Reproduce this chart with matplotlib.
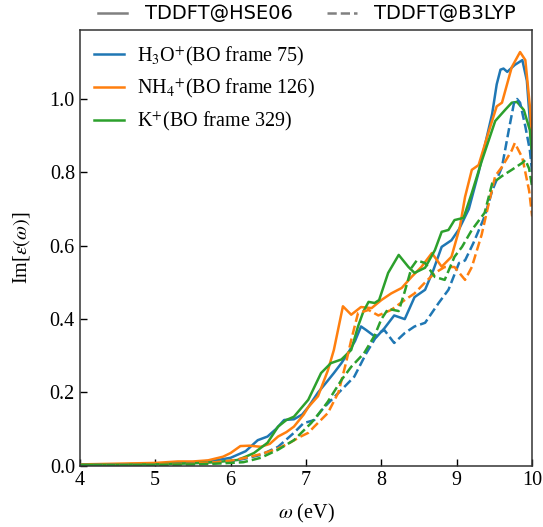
import matplotlib
matplotlib.use("Agg")
import matplotlib.pyplot as plt
from matplotlib.lines import Line2D

plt.rcParams['font.family'] = ['Liberation Serif', 'DejaVu Serif']
plt.rcParams['mathtext.fontset'] = 'stix'
plt.rcParams['font.size'] = 14.5

# energy (eV) and Im[eps]
h3o_hse_x = [4.0, 4.5, 5.0, 5.5, 5.8, 6.0, 6.2, 6.36, 6.49, 6.6, 6.71, 6.84, 6.95, 7.03, 7.16,
             7.28, 7.37, 7.47, 7.56, 7.65, 7.73, 7.8, 7.93, 8.04, 8.17, 8.31, 8.44, 8.58, 8.69,
             8.8, 8.93, 9.03, 9.16, 9.29, 9.38, 9.47, 9.53, 9.58, 9.62, 9.67, 9.77, 9.87, 9.93,
             9.97, 10.0]
h3o_hse_y = [0.003, 0.004, 0.006, 0.01, 0.015, 0.022, 0.04, 0.07, 0.08, 0.1, 0.125, 0.127, 0.14,
             0.16, 0.2, 0.23, 0.253, 0.28, 0.308, 0.34, 0.38, 0.37, 0.35, 0.375, 0.41, 0.40, 0.46,
             0.48, 0.534, 0.597, 0.615, 0.645, 0.70, 0.80, 0.88, 0.96, 1.04, 1.08, 1.083, 1.074,
             1.093, 1.106, 1.05, 0.94, 0.82]

nh4_hse_x = [4.0, 4.5, 5.0, 5.3, 5.5, 5.7, 5.9, 6.0, 6.13, 6.25, 6.4, 6.52, 6.63, 6.74, 6.84,
             6.97, 7.03, 7.16, 7.29, 7.37, 7.49, 7.6, 7.73, 7.87, 8.0, 8.13, 8.27, 8.4, 8.53, 8.67,
             8.8, 8.93, 9.04, 9.11, 9.2, 9.29, 9.43, 9.53, 9.6, 9.73, 9.84, 9.91, 9.97, 10.0]
nh4_hse_y = [0.004, 0.006, 0.008, 0.012, 0.012, 0.015, 0.025, 0.035, 0.054, 0.055, 0.052, 0.06,
             0.08, 0.092, 0.107, 0.14, 0.16, 0.19, 0.26, 0.316, 0.435, 0.412, 0.433, 0.43, 0.452,
             0.47, 0.485, 0.515, 0.542, 0.58, 0.543, 0.57, 0.65, 0.733, 0.807, 0.82, 0.915, 0.98,
             0.99, 1.087, 1.128, 1.106, 0.98, 0.88]

k_hse_x = [4.0, 4.5, 5.0, 5.5, 5.8, 6.09, 6.2, 6.31, 6.49, 6.63, 6.74, 6.84, 7.03, 7.2, 7.33,
           7.47, 7.6, 7.69, 7.76, 7.83, 7.91, 7.97, 8.09, 8.23, 8.36, 8.44, 8.58, 8.71, 8.8, 8.89,
           8.97, 9.09, 9.2, 9.33, 9.51, 9.64, 9.73, 9.8, 9.89, 9.97, 10.0]
k_hse_y = [0.003, 0.003, 0.004, 0.007, 0.01, 0.016, 0.025, 0.035, 0.063, 0.107, 0.125, 0.134,
           0.18, 0.253, 0.28, 0.29, 0.316, 0.38, 0.42, 0.447, 0.444, 0.452, 0.526, 0.575, 0.542,
           0.526, 0.54, 0.588, 0.638, 0.643, 0.67, 0.676, 0.744, 0.83, 0.94, 0.97, 0.99, 0.992,
           0.97, 0.915, 0.84]

h3o_b3_x = [4.0, 4.5, 5.0, 5.5, 5.8, 6.0, 6.2, 6.4, 6.63, 6.84, 6.97, 7.03, 7.11, 7.2, 7.29,
            7.47, 7.64, 7.8, 7.96, 8.04, 8.17, 8.31, 8.44, 8.58, 8.76, 8.89, 9.03, 9.11, 9.22,
            9.37, 9.47, 9.6, 9.69, 9.76, 9.8, 9.84, 9.91, 9.97, 10.0]
h3o_b3_y = [0.002, 0.003, 0.004, 0.006, 0.009, 0.012, 0.02, 0.03, 0.052, 0.09, 0.117, 0.12,
            0.125, 0.15, 0.17, 0.207, 0.243, 0.307, 0.362, 0.37, 0.335, 0.362, 0.38, 0.39,
            0.444, 0.48, 0.553, 0.56, 0.607, 0.68, 0.75, 0.815, 0.915, 0.99, 1.0, 0.99, 0.925,
            0.86, 0.80]

nh4_b3_x = [4.0, 4.5, 5.0, 5.5, 5.8, 6.0, 6.2, 6.4, 6.6, 6.76, 6.93, 7.03, 7.11, 7.29, 7.43,
            7.53, 7.6, 7.69, 7.83, 7.96, 8.13, 8.31, 8.44, 8.58, 8.71, 8.84, 8.97, 9.11, 9.2,
            9.33, 9.43, 9.51, 9.6, 9.73, 9.77, 9.87, 9.96, 10.0]
nh4_b3_y = [0.002, 0.003, 0.004, 0.006, 0.01, 0.014, 0.022, 0.032, 0.045, 0.06, 0.08, 0.09,
            0.107, 0.144, 0.2, 0.28, 0.343, 0.416, 0.425, 0.41, 0.425, 0.452, 0.47, 0.5, 0.526,
            0.542, 0.542, 0.507, 0.542, 0.63, 0.72, 0.79, 0.815, 0.86, 0.88, 0.84, 0.75, 0.68]

k_b3_x = [4.0, 4.5, 5.0, 5.5, 5.8, 6.0, 6.17, 6.4, 6.63, 6.84, 7.07, 7.2, 7.29, 7.47, 7.6,
          7.77, 7.91, 8.0, 8.09, 8.23, 8.31, 8.4, 8.47, 8.58, 8.71, 8.84, 8.97, 9.07, 9.2, 9.37,
          9.47, 9.6, 9.73, 9.87, 9.91, 9.96, 10.0]
k_b3_y = [0.002, 0.002, 0.003, 0.004, 0.006, 0.008, 0.01, 0.022, 0.044, 0.07, 0.117, 0.15,
          0.175, 0.234, 0.27, 0.307, 0.355, 0.4, 0.428, 0.422, 0.475, 0.54, 0.56, 0.553, 0.515,
          0.507, 0.57, 0.597, 0.643, 0.69, 0.77, 0.79, 0.807, 0.826, 0.834, 0.81, 0.76]

labels = [r"H$_3$O$^{+}$(BO frame 75)", r"NH$_4$$^{+}$(BO frame 126)", r"K$^{+}$(BO frame 329)"]
colors = ["#1f77b4", "#ff7f0e", "#2ca02c"]

fig = plt.figure(figsize=(5.43, 5.27), dpi=100)
ax = fig.add_axes([0.147, 0.116, 0.833, 0.827])

lw = 1.8
ax.plot(h3o_hse_x, h3o_hse_y, color=colors[0], lw=lw, label=labels[0])
ax.plot(nh4_hse_x, nh4_hse_y, color=colors[1], lw=lw, label=labels[1])
ax.plot(k_hse_x, k_hse_y, color=colors[2], lw=lw, label=labels[2])
ax.plot(h3o_b3_x, h3o_b3_y, color=colors[0], lw=lw, ls='--')
ax.plot(nh4_b3_x, nh4_b3_y, color=colors[1], lw=lw, ls='--')
ax.plot(k_b3_x, k_b3_y, color=colors[2], lw=lw, ls='--')

ax.set_xlim(4, 10)
ax.set_ylim(0, 1.188)
ax.set_yticks([0.0, 0.2, 0.4, 0.6, 0.8, 1.0])
ax.set_xlabel(r"$\omega$ (eV)", labelpad=9)
ax.set_ylabel(r"Im[$\varepsilon(\omega)$]", labelpad=13)
ax.tick_params(direction='in', length=5, width=1, top=False, right=False)
for s in ax.spines.values():
    s.set_linewidth(1.1)
    s.set_color('#333333')

ax.legend(loc='upper left', frameon=False, handlelength=1.5, handletextpad=0.65,
          labelspacing=0.45, borderaxespad=0.3)

style_handles = [Line2D([], [], color='gray', lw=lw),
                 Line2D([], [], color='gray', lw=lw, ls='--')]
fig.legend(style_handles, ["TDDFT@HSE06", "TDDFT@B3LYP"], loc='upper center',
           bbox_to_anchor=(0.565, 1.025), ncol=2, frameon=False, columnspacing=1.8,
           handlelength=1.5, handletextpad=0.9, prop={'family': 'DejaVu Sans', 'size': 14})

fig.savefig("out.png", dpi=100)
plt.close(fig)
